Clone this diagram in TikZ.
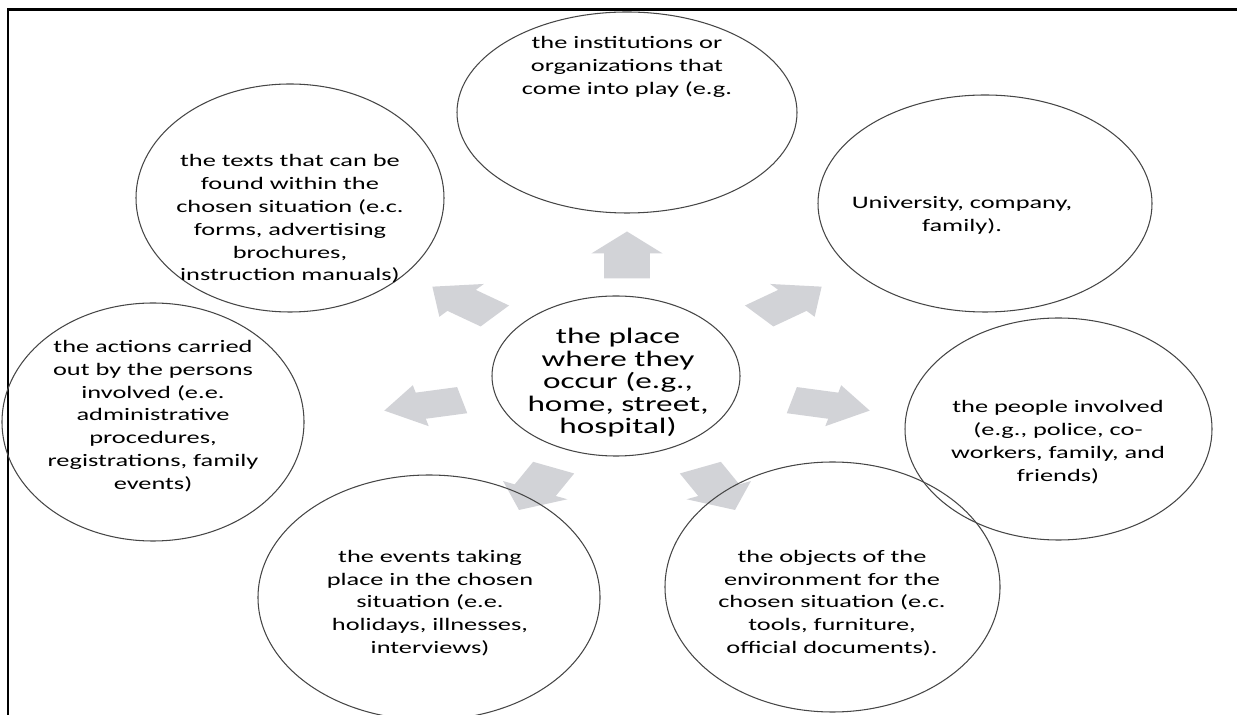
\documentclass[tikz,border=0pt]{standalone}
\usepackage{fontspec}
\usetikzlibrary{shapes.geometric}
\newfontfamily\bubblefont[FakeStretch=1.5]{Carlito}
\definecolor{arrowgray}{RGB}{210,211,215}
\definecolor{rimgray}{RGB}{70,70,70}

\begin{document}
\begin{tikzpicture}[x=0.02cm, y=-0.02cm,
  bubble/.style 2 args={ellipse, draw=rimgray, line width=0.6pt, inner sep=0pt,
    minimum width=#1*0.02cm, minimum height=#2*0.02cm},
  bubbletext/.style={align=center, inner sep=0pt,
    font=\bubblefont\fontsize{10}{13}\selectfont},
  hubtext/.style={align=center, inner sep=0pt,
    font=\bubblefont\fontsize{12.6}{12.8}\selectfont}]
\useasboundingbox (0,0) rectangle (1237,715);

% Frame
\draw[line width=1.2pt] (1237,9.5) -- (8,9.5) -- (8,715);

% Block arrows from the hub
\foreach \t in {90,141.43,192.86,244.29,295.71,347.14,38.57} {
  \begin{scope}[shift={({627+209*cos(\t)},{378-123*sin(\t)})}, xscale=1.7, rotate=\t]
    \fill[arrowgray] (-23.5,-13.4) -- (1.5,-13.4) -- (1.5,-21) -- (23.5,0)
      -- (1.5,21) -- (1.5,13.4) -- (-23.5,13.4) -- cycle;
  \end{scope}
}

% Hub
\node[bubble={248}{160}] (place) at (616,376) {};
\node[hubtext] (place-t) at (618,383) {the place\\where they\\occur (e.g.,\\home, street,\\hospital)};

% Outer circles
\node[bubble={340}{201}] (inst) at (627,112.5) {};
\node[bubbletext] (inst-t) at (627,67) {the institutions or\\organizations that\\come into play (e.g.};

\node[bubble={334}{217}] (univ) at (985,203.5) {};
\node[bubbletext] (univ-t) at (962,215) {University, company,\\family).};

\node[bubble={307}{222}] (people) at (1058.5,429) {};
\node[bubbletext] (people-t) at (1058,442) {the people involved\\(e.g., police, co-\\workers, family, and\\friends)};

\node[bubble={335}{250}] (objects) at (832.5,587) {};
\node[bubbletext] (objects-t) at (832,603) {the objects of the\\environment for the\\chosen situation (e.c.\\tools, furniture,\\official documents).};

\node[bubble={342}{245}] (events) at (429,597.5) {};
\node[bubbletext] (events-t) at (430,603) {the events taking\\place in the chosen\\situation (e.e.\\holidays, illnesses,\\interviews)};

\node[bubble={302}{238}] (actions) at (153,422) {};
\node[bubbletext] (actions-t) at (153,416) {the actions carried\\out by the persons\\involved (e.e.\\administrative\\procedures,\\registrations, family\\events)};

\node[bubble={308}{228}] (texts) at (290,198) {};
\node[bubbletext] (texts-t) at (290,219) {the texts that can be\\found within the\\chosen situation (e.c.\\forms, advertising\\brochures,\\instruction manuals)};

\end{tikzpicture}
\end{document}
